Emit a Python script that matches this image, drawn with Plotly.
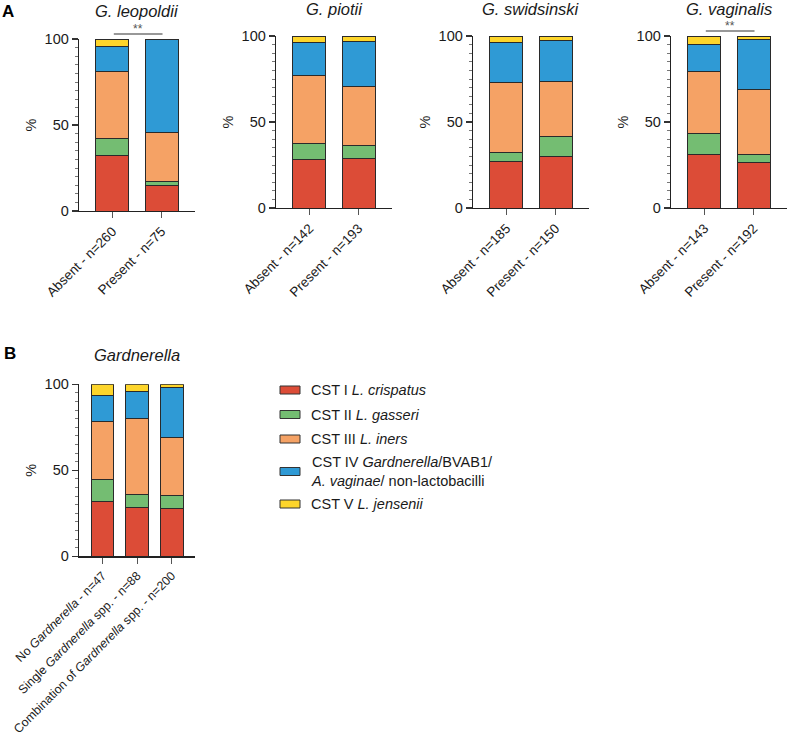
import plotly.graph_objects as go

W, H = 787, 741
FONT = "Liberation Sans, Arial, sans-serif"

# ---------------- data ----------------
series_names = [
    "CST I <i>L. crispatus</i>",
    "CST II <i>L. gasseri</i>",
    "CST III <i>L. iners</i>",
    "CST IV <i>Gardnerella</i>/BVAB1/<br><i>A. vaginae</i>/ non-lactobacilli",
    "CST V <i>L. jensenii</i>",
]
colors = ["#DC4C37", "#74BD72", "#F5A265", "#2F9AD5", "#FDD52B"]

# Panel A
leopoldii_title = "G. leopoldii"
leopoldii_cats = ["Absent - n=260", "Present - n=75"]
leopoldii_cst1 = [32.3, 14.7]
leopoldii_cst2 = [10.0, 2.7]
leopoldii_cst3 = [38.8, 28.0]
leopoldii_cst4 = [14.6, 54.6]
leopoldii_cst5 = [4.3, 0.0]

piotii_title = "G. piotii"
piotii_cats = ["Absent - n=142", "Present - n=193"]
piotii_cst1 = [28.2, 28.5]
piotii_cst2 = [9.2, 7.8]
piotii_cst3 = [39.4, 34.2]
piotii_cst4 = [19.7, 26.4]
piotii_cst5 = [3.5, 3.1]

swidsinski_title = "G. swidsinski"
swidsinski_cats = ["Absent - n=185", "Present - n=150"]
swidsinski_cst1 = [27.0, 29.8]
swidsinski_cst2 = [5.4, 12.0]
swidsinski_cst3 = [40.5, 31.6]
swidsinski_cst4 = [23.3, 24.0]
swidsinski_cst5 = [3.8, 2.6]

vaginalis_title = "G. vaginalis"
vaginalis_cats = ["Absent - n=143", "Present - n=192"]
vaginalis_cst1 = [31.0, 26.2]
vaginalis_cst2 = [12.4, 5.0]
vaginalis_cst3 = [36.1, 37.8]
vaginalis_cst4 = [15.8, 29.1]
vaginalis_cst5 = [4.7, 1.9]

# Panel B
gard_title = "Gardnerella"
gard_cats = ["No Gardnerella - n=47", "Single Gardnerella spp. - n=88",
             "Combination of Gardnerella spp. - n=200"]
gard_ticktext = ["No <i>Gardnerella</i> - n=47", "Single <i>Gardnerella</i> spp. - n=88",
                 "Combination of <i>Gardnerella</i> spp. - n=200"]
gard_cst1 = [31.6, 28.1, 27.5]
gard_cst2 = [12.8, 8.1, 7.6]
gard_cst3 = [33.9, 44.0, 34.1]
gard_cst4 = [14.9, 15.9, 29.1]
gard_cst5 = [6.8, 3.9, 1.7]

significance = ["**", "", "", "**"]

# ---------------- layout helpers ----------------
def px_x(p):
    return p / W

def px_y(p):
    return 1 - p / H

panels = [
    dict(title=leopoldii_title, cats=leopoldii_cats, ticktext=leopoldii_cats,
         vals=[leopoldii_cst1, leopoldii_cst2, leopoldii_cst3, leopoldii_cst4, leopoldii_cst5],
         x0=79, x1=195, ytop=39, ybot=211, width=0.67, rng=[-0.68, 1.68],
         sig=significance[0], sig_line=34, sig_text=29, title_y=11, tick_size=13.5),
    dict(title=piotii_title, cats=piotii_cats, ticktext=piotii_cats,
         vals=[piotii_cst1, piotii_cst2, piotii_cst3, piotii_cst4, piotii_cst5],
         x0=276, x1=392, ytop=36, ybot=208, width=0.67, rng=[-0.68, 1.68],
         sig=significance[1], sig_line=31, sig_text=26, title_y=8.5, tick_size=13.5),
    dict(title=swidsinski_title, cats=swidsinski_cats, ticktext=swidsinski_cats,
         vals=[swidsinski_cst1, swidsinski_cst2, swidsinski_cst3, swidsinski_cst4, swidsinski_cst5],
         x0=473, x1=589, ytop=36, ybot=208, width=0.67, rng=[-0.68, 1.68],
         sig=significance[2], sig_line=31, sig_text=26, title_y=8.5, tick_size=13.5),
    dict(title=vaginalis_title, cats=vaginalis_cats, ticktext=vaginalis_cats,
         vals=[vaginalis_cst1, vaginalis_cst2, vaginalis_cst3, vaginalis_cst4, vaginalis_cst5],
         x0=671, x1=787, ytop=36, ybot=208, width=0.67, rng=[-0.68, 1.68],
         sig=significance[3], sig_line=31, sig_text=26, title_y=8.5, tick_size=13.5),
    dict(title=gard_title, cats=gard_cats, ticktext=gard_ticktext,
         vals=[gard_cst1, gard_cst2, gard_cst3, gard_cst4, gard_cst5],
         x0=79, x1=195, ytop=384.3, ybot=556.3, width=0.65, rng=[-0.68, 2.67],
         sig="", sig_line=0, sig_text=0, title_y=355, tick_size=12.3),
]

fig = go.Figure()
annotations = []
shapes = []

for i, p in enumerate(panels, start=1):
    xa = "x" if i == 1 else f"x{i}"
    ya = "y" if i == 1 else f"y{i}"
    for name, col, v in zip(series_names, colors, p["vals"]):
        fig.add_trace(go.Bar(
            x=p["cats"], y=v, name=name, xaxis=xa, yaxis=ya,
            marker=dict(color=col, line=dict(color="#2a2a2a", width=1)),
            width=p["width"], showlegend=False, cliponaxis=False,
        ))
    xkey = "xaxis" if i == 1 else f"xaxis{i}"
    ykey = "yaxis" if i == 1 else f"yaxis{i}"
    fig.update_layout(**{
        xkey: dict(
            domain=[px_x(p["x0"]), px_x(p["x1"])], anchor=ya, range=p["rng"],
            type="category", tickmode="array", tickvals=p["cats"], ticktext=p["ticktext"],
            showline=True, linecolor="#222", linewidth=1.3,
            ticks="outside", ticklen=6, tickwidth=1.3, tickcolor="#555",
            tickangle=-45, tickfont=dict(size=p["tick_size"], color="#1a1a1a", family=FONT),
            showgrid=False, zeroline=False, automargin=False, fixedrange=True,
        ),
        ykey: dict(
            domain=[px_y(p["ybot"]), px_y(p["ytop"])], anchor=xa, range=[0, 100],
            tickmode="linear", tick0=0, dtick=50,
            showline=True, linecolor="#222", linewidth=1.3,
            ticks="outside", ticklen=6, tickwidth=1.3, tickcolor="#333",
            minor=dict(dtick=5, tick0=0, ticks="outside", ticklen=3, tickcolor="#777", tickwidth=1),
            tickfont=dict(size=14.5, color="#1a1a1a", family=FONT),
            title=dict(text="%", standoff=4, font=dict(size=14.5, color="#1a1a1a", family=FONT)),
            showgrid=False, zeroline=False, automargin=False, fixedrange=True,
        ),
    })
    annotations.append(dict(
        text=f"<i>{p['title']}</i>", xref=f"{xa} domain", x=0.5, yref="paper",
        y=px_y(p["title_y"]), xanchor="center", yanchor="middle", showarrow=False,
        font=dict(size=16.5, color="#1a1a1a", family=FONT),
    ))
    if p["sig"]:
        span = p["ybot"] - p["ytop"]
        yl = (p["ybot"] - p["sig_line"]) / span
        yt = (p["ybot"] - p["sig_text"]) / span
        shapes.append(dict(
            type="line", xref=f"{xa} domain", yref=f"{ya} domain",
            x0=0.30, x1=0.72, y0=yl, y1=yl, line=dict(color="#333", width=1.2),
        ))
        annotations.append(dict(
            text=p["sig"], xref=f"{xa} domain", yref=f"{ya} domain", x=0.51, y=yt,
            xanchor="center", yanchor="middle", showarrow=False,
            font=dict(size=12, color="#555", family=FONT),
        ))

# panel letters
annotations.append(dict(text="<b>A</b>", xref="paper", yref="paper", x=0, y=px_y(11.5),
                        xanchor="left", yanchor="middle", showarrow=False,
                        font=dict(size=17, color="#000", family=FONT)))
annotations.append(dict(text="<b>B</b>", xref="paper", yref="paper", x=0.002, y=px_y(353.5),
                        xanchor="left", yanchor="middle", showarrow=False,
                        font=dict(size=17, color="#000", family=FONT)))

# manual legend
ly = 390.0
for name, col in zip(series_names, colors):
    nlines = name.count("<br>") + 1
    center = ly + (nlines - 1) * 8
    shapes.append(dict(type="rect", xref="paper", yref="paper",
                       x0=px_x(280), x1=px_x(300), y0=px_y(center - 4), y1=px_y(center + 4),
                       fillcolor=col, line=dict(color="#333", width=1)))
    annotations.append(dict(text=name, xref="paper", yref="paper", x=px_x(309), y=px_y(center),
                            xanchor="left", yanchor="middle", align="left", showarrow=False,
                            font=dict(size=14.5, color="#1a1a1a", family=FONT)))
    ly += 24.5 + (nlines - 1) * 16

fig.update_layout(
    width=W, height=H, margin=dict(l=0, r=0, t=0, b=0),
    paper_bgcolor="white", plot_bgcolor="white",
    barmode="stack", bargap=0.33,
    font=dict(family=FONT, color="#1a1a1a"),
    annotations=annotations, shapes=shapes, showlegend=False,
)

fig.write_html(
    "out.html",
    config=dict(displayModeBar=False, staticPlot=True),
    post_script="document.body.style.margin='0';document.body.style.overflow='hidden';",
)
